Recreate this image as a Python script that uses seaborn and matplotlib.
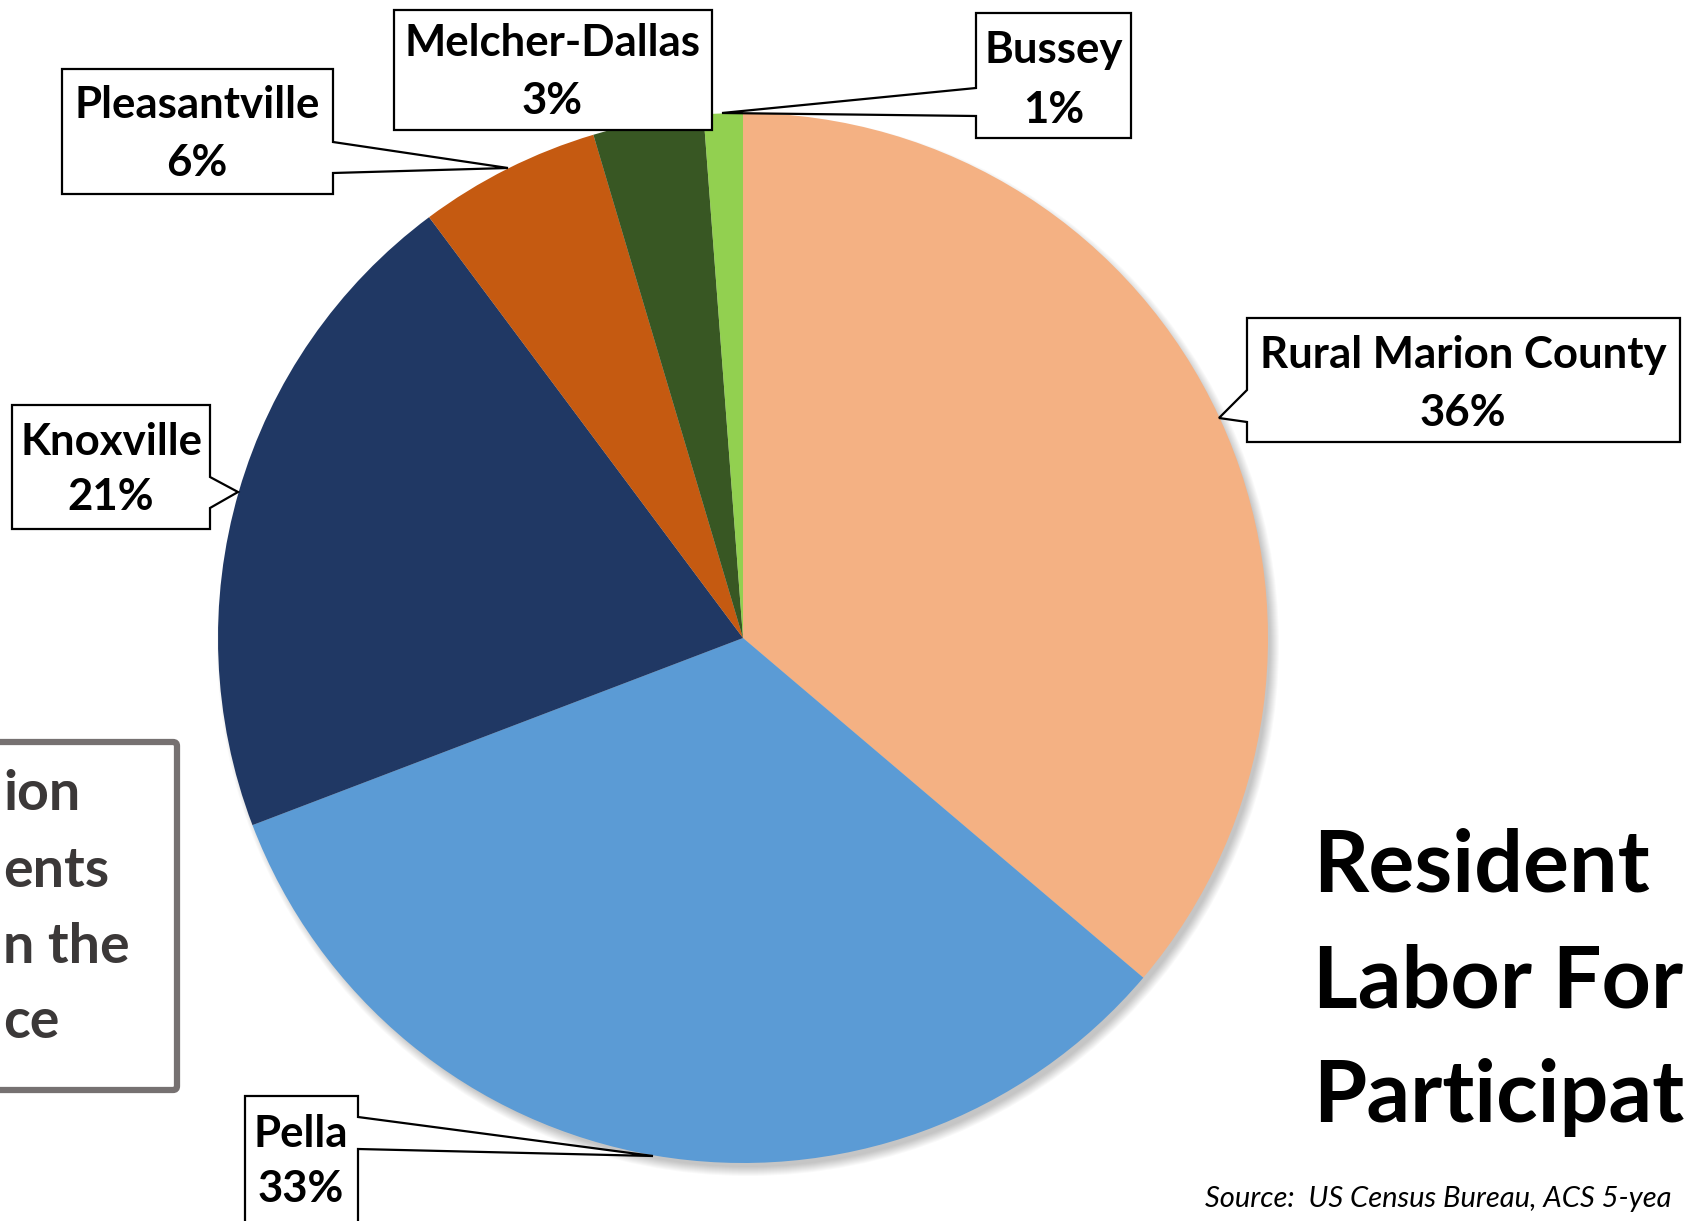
"""
Recreate the 'Resident Labor Force Participation' pie slide with seaborn + matplotlib.
"""
import matplotlib
matplotlib.use("Agg")
import matplotlib.pyplot as plt
from matplotlib.patches import Polygon, Circle, FancyBboxPatch
import seaborn as sns

# Data (share of resident labor force, %)
places = ["Rural Marion County", "Pella", "Knoxville", "Pleasantville", "Melcher-Dallas", "Bussey"]
shares = [36.2, 33.0, 20.6, 5.6, 3.4, 1.2]
slice_colors = ["#F4B183", "#5B9BD5", "#203864", "#C55A11", "#385723", "#92D050"]

title_lines = ["Resident", "Labor For", "Participat"]
side_lines = ["ion", "ents", "n the", "ce"]
source_text = "Source:  US Census Bureau, ACS 5-yea"

W, H = 1688, 1221
CX, CY, R = 743, 638, 525

sns.set_theme(style="white")
plt.rcParams["font.family"] = ["Lato", "DejaVu Sans"]

fig = plt.figure(figsize=(W / 100, H / 100), dpi=100)
fig.patch.set_facecolor("white")
ax = fig.add_axes([0, 0, 1, 1])

# soft shadow under the pie
for k in range(10):
    ax.add_patch(Circle((CX + 5, CY + 7), R + 6 - k, color="black", alpha=0.025, lw=0, zorder=0))

palette = sns.color_palette(slice_colors)
ax.pie(shares, colors=palette, startangle=-90, counterclock=True,
       center=(CX, CY), radius=R, wedgeprops={"linewidth": 0})

ax.set_xlim(0, W)
ax.set_ylim(H, 0)
ax.set_aspect("auto")
ax.axis("off")


def callout(box, side=None, p1=None, p2=None, tip=None):
    """Rectangle callout; optional pointer on left/right side from p1..p2 (y) to tip."""
    x0, y0, x1, y1 = box
    if side == "right":
        pts = [(x0, y0), (x1, y0), (x1, p1), tip, (x1, p2), (x1, y1), (x0, y1)]
    elif side == "left":
        pts = [(x0, y0), (x1, y0), (x1, y1), (x0, y1), (x0, p2), tip, (x0, p1)]
    else:
        pts = [(x0, y0), (x1, y0), (x1, y1), (x0, y1)]
    ax.add_patch(Polygon(pts, closed=True, fc="white", ec="black", lw=1.6, zorder=5))


def label(cx, y_name, y_pct, name, pct, size=31.5):
    ax.text(cx, y_name, name, ha="center", va="baseline", fontsize=size,
            fontweight="bold", color="black", zorder=6)
    ax.text(cx, y_pct, pct, ha="center", va="baseline", fontsize=size,
            fontweight="bold", color="black", zorder=6)


pct = [f"{round(v):.0f}%" for v in shares]

# Rural Marion County
callout((1247, 318, 1680, 442), "left", 390, 422, (1219, 418))
label(1463, 368, 426, places[0], pct[0])
# Pella
callout((245, 1096, 358, 1260), "right", 1117, 1149, (653, 1156))
label(301, 1147, 1202, places[1], pct[1])
# Knoxville
callout((12, 405, 210, 529), "right", 477, 508, (238, 492))
label(111, 455, 510, places[2], pct[2])
# Pleasantville
callout((62, 69, 333, 194), "right", 142, 173, (508, 168))
label(197, 118, 176, places[3], pct[3])
# Melcher-Dallas
callout((394, 10, 712, 130))
label(552, 56, 114, places[4], pct[4])
# Bussey
callout((976, 13, 1131, 138), "left", 88, 116, (722, 113))
label(1054, 63, 123, places[5], pct[5])

# cropped grey text box on the left
ax.add_patch(FancyBboxPatch((-30, 742), 207, 348, boxstyle="round,pad=0,rounding_size=4",
                            fc="white", ec="#767171", lw=4.5, zorder=4))
for txt, yb in zip(side_lines, [810, 887, 963, 1038]):
    ax.text(3, yb, txt, ha="left", va="baseline", fontsize=40,
            fontweight="bold", color="#3B3838", zorder=6)

# cropped title
for txt, yb in zip(title_lines, [892, 1007, 1122]):
    ax.text(1313, yb, txt, ha="left", va="baseline", fontsize=62,
            fontweight="bold", color="black", zorder=6)

ax.text(1205, 1207, source_text, ha="left", va="baseline", fontsize=21,
        style="italic", color="black", zorder=6)

fig.savefig("out.png", dpi=100, facecolor="white")
